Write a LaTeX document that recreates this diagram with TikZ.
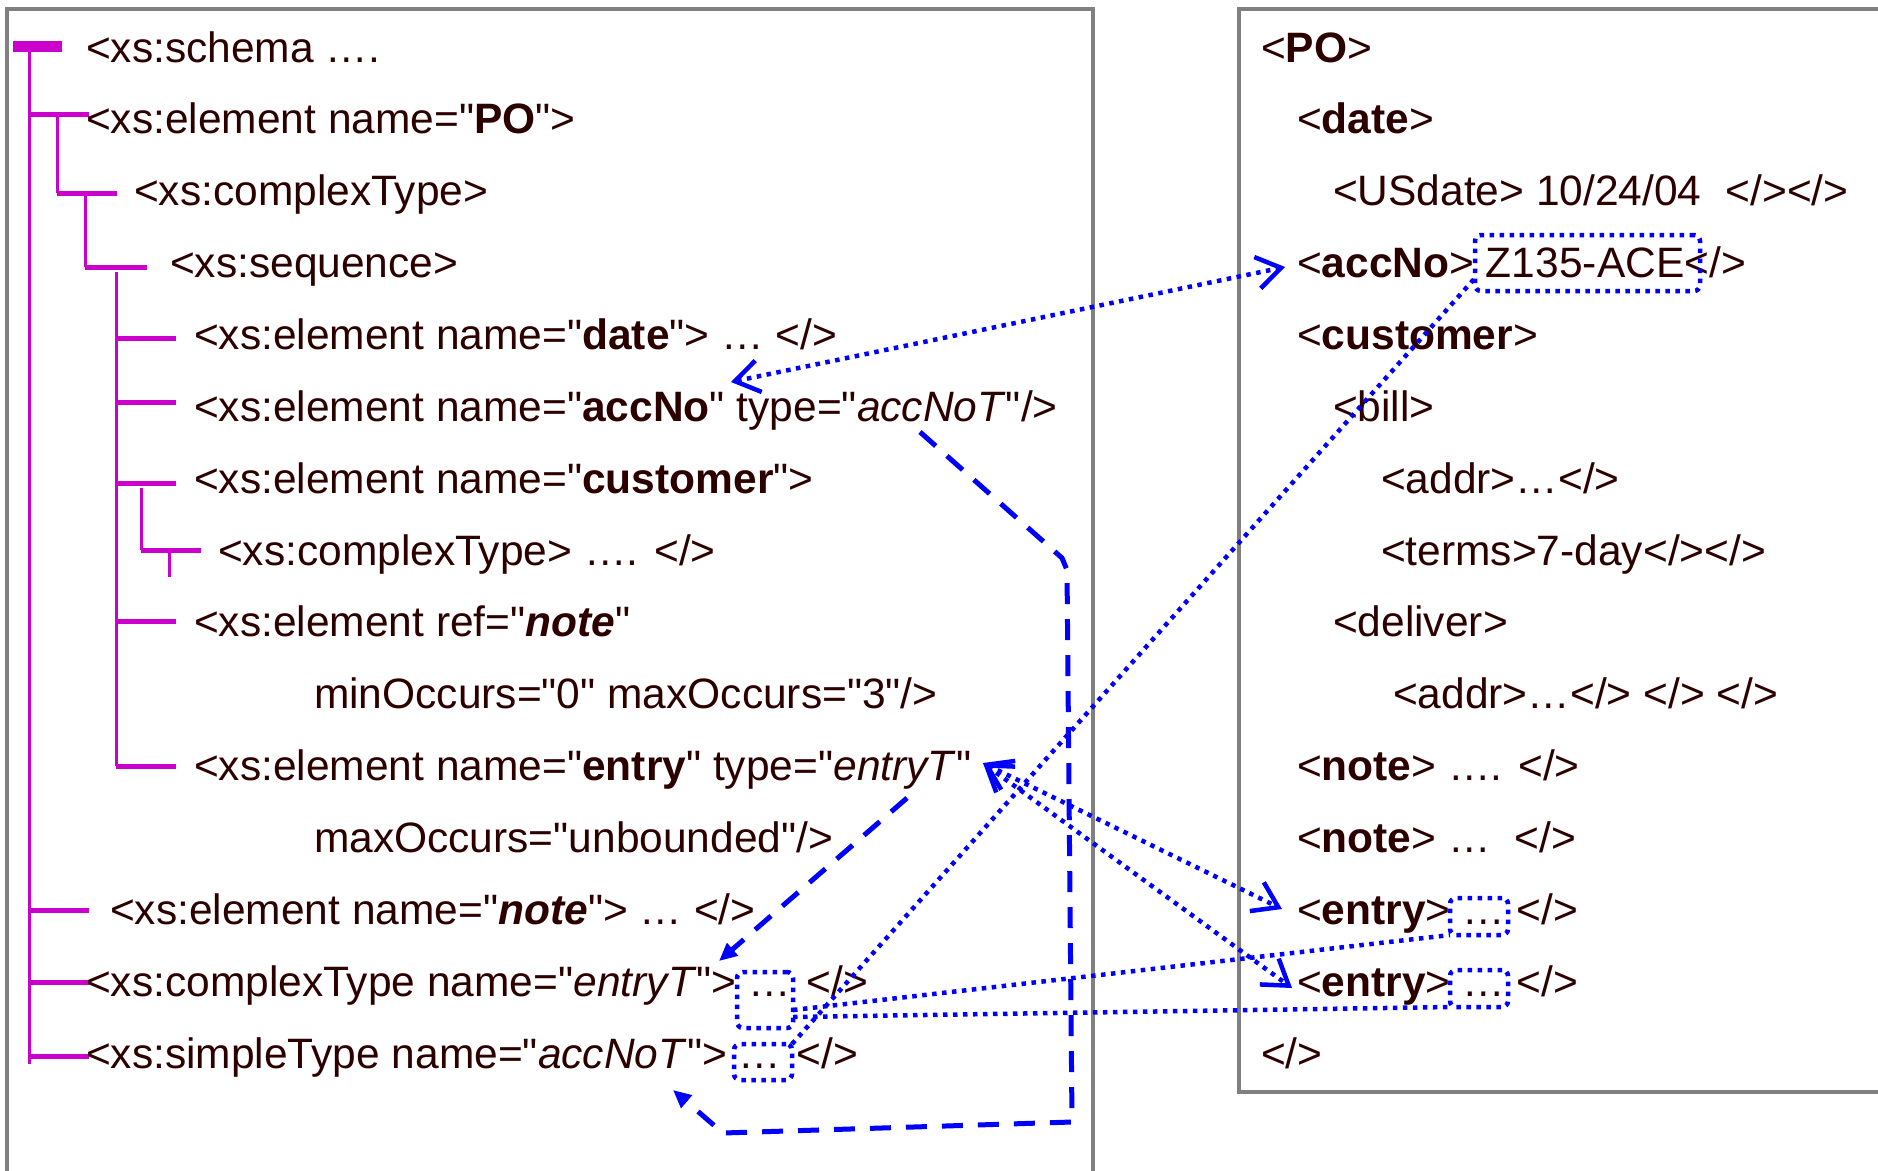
\documentclass[tikz,border=0pt]{standalone}
\usepackage{fontspec}
\setmainfont{Liberation Sans}[Ligatures=TeXOff]
\usetikzlibrary{arrows.meta}
\definecolor{ink}{RGB}{45,0,0}
\definecolor{treec}{RGB}{204,0,204}
\definecolor{framec}{RGB}{128,128,128}
\definecolor{linkc}{RGB}{0,0,255}
\tikzset{
  vhead/.tip={Straight Barb[length=24pt,width=32pt]},
  fhead/.tip={Triangle[length=18pt,width=16pt]},
  txt/.style={anchor=base west, inner sep=0pt, outer sep=0pt, text=ink,
    font=\fontsize{42.5}{50}\selectfont},
  branch/.style={treec, line width=5pt},
  stem/.style={treec, line width=3pt},
  panel/.style={framec, line width=4pt},
  dotln/.style={linkc, line width=4.5pt, dash pattern=on 4.5pt off 5.5pt},
  dashln/.style={linkc, line width=5pt, dash pattern=on 21pt off 15pt},
  dotbox/.style={draw=linkc, line width=4.5pt, dash pattern=on 4.5pt off 5.5pt,
    rounded corners=6pt, inner sep=0pt, outer sep=0pt, rectangle},
}
\begin{document}
\begin{tikzpicture}[x=1pt,y=-1pt]
\useasboundingbox (0,0) rectangle (1878,1170);
\clip (0,0) rectangle (1878,1170);
\fill[white] (0,0) rectangle (1878,1170);

% the two panels
\draw[panel] (7,9) rectangle (1093,1200);
\draw[panel] (1239,9) rectangle (1900,1092);

% schema tree
\draw[treec, line width=11pt] (13,46) -- (62,46);
\draw[stem] (29,46) -- (29,1064);
\draw[branch] (29,114) -- (89,114);
\draw[stem] (57,114) -- (57,193);
\draw[branch] (57,193) -- (117,193);
\draw[stem] (85,193) -- (85,267);
\draw[branch] (85,267) -- (147,267);
\draw[stem] (116,272) -- (116,766);
\draw[branch] (116,338) -- (176,338);
\draw[branch] (116,402) -- (176,402);
\draw[branch] (116,483) -- (176,483);
\draw[stem] (141,488) -- (141,550);
\draw[branch] (141,550) -- (201,550);
\draw[stem] (169,553) -- (169,577);
\draw[branch] (116,621) -- (176,621);
\draw[branch] (116,766) -- (176,766);
\draw[branch] (29,910) -- (89,910);
\draw[branch] (29,982) -- (89,982);
\draw[branch] (29,1056) -- (89,1056);

% schema text
\node[txt] (s0)  at (86,62)      {<xs:schema ….};
\node[txt] (s1)  at (86,133.9)   {<xs:element name="\textbf{PO}">};
\node[txt] (s2)  at (134,205.7)  {<xs:complexType>};
\node[txt] (s3)  at (170,277.6)  {<xs:sequence>};
\node[txt] (s4)  at (194,349.4)  {<xs:element name="\textbf{date}"> … </>};
\node[txt] (s5)  at (194,421.3)  {<xs:element name="\textbf{accNo}" type="\textit{accNoT}"/>};
\node[txt] (s6)  at (194,493.2)  {<xs:element name="\textbf{customer}">};
\node[txt] (s7)  at (218,565.0)  {<xs:complexType> …. </>};
\node[txt] (s8)  at (194,636.9)  {<xs:element ref="\textbf{\textit{note}}"};
\node[txt] (s9)  at (314,708.7)  {minOccurs="0" maxOccurs="3"/>};
\node[txt] (s10) at (194,780.6)  {<xs:element name="\textbf{entry}" type="\textit{entryT}"};
\node[txt] (s11) at (314,852.5)  {maxOccurs="unbounded"/>};
\node[txt] (s12) at (110,924.3)  {<xs:element name="\textbf{\textit{note}}"> … </>};
\node[txt] (s13) at (86,996.2)   {<xs:complexType name="\textit{entryT}"> … \hspace{4pt}</>};
\node[txt] (s14) at (86,1068.0)  {<xs:simpleType name="\textit{accNoT}">\hspace{12pt}…\hspace{15pt}</>};

% instance text
\node[txt] (d0)  at (1261,62)     {<\textbf{PO}>};
\node[txt] (d1)  at (1297,133.9)  {<\textbf{date}>};
\node[txt] (d2)  at (1333,205.7)  {<USdate> 10/24/04\hspace{24pt}</></>};
\node[txt] (d3)  at (1297,277.6)  {<\textbf{accNo}> Z135-ACE</>};
\node[txt] (d4)  at (1297,349.4)  {<\textbf{customer}>};
\node[txt] (d5)  at (1333,421.3)  {<bill>};
\node[txt] (d6)  at (1381,493.2)  {<addr>…</>};
\node[txt] (d7)  at (1381,565.0)  {<terms>7-day</></>};
\node[txt] (d8)  at (1333,636.9)  {<deliver>};
\node[txt] (d9)  at (1393,708.7)  {<addr>…</> </> </>};
\node[txt] (d10) at (1297,780.6)  {<\textbf{note}> …. </>};
\node[txt] (d11) at (1297,852.5)  {<\textbf{note}> …\hspace{24pt}</>};
\node[txt] (d12) at (1297,924.3)  {<\textbf{entry}> … </>};
\node[txt] (d13) at (1297,996.2)  {<\textbf{entry}> … </>};
\node[txt] (d14) at (1261,1068.0) {</>};

% dotted value boxes
\node[dotbox, minimum width=225pt, minimum height=56pt] (zbox) at (1587.5,263) {};
\node[dotbox, minimum width=58pt, minimum height=37pt] (ebox1) at (1479,916.5) {};
\node[dotbox, minimum width=58pt, minimum height=37pt] (ebox2) at (1479,988.5) {};
\node[dotbox, minimum width=56pt, minimum height=56pt] (tbox) at (765,1000) {};
\node[dotbox, minimum width=58pt, minimum height=36pt] (abox) at (763,1062) {};

% link end points
\coordinate (accL)   at (731,382);
\coordinate (accR)   at (1285,267);
\coordinate (entL)   at (983,763);
\coordinate (entR1)  at (1282,909);
\coordinate (entR2)  at (1292,988);
\coordinate (accTy)  at (920,432);
\coordinate (accB1)  at (1062,558);
\coordinate (accB2)  at (1067,570);
\coordinate (accB3)  at (1072,1122);
\coordinate (accB4)  at (723,1133);
\coordinate (accTip) at (673,1090);
\coordinate (entTy)  at (907,798);
\coordinate (entTip) at (719,961);

% element correspondences
\draw[dotln, vhead-vhead] (accL) -- (accR);
\draw[dotln, vhead-vhead] (entL) -- (entR1);
\draw[dotln, vhead-vhead] (entL) -- (entR2);

% content correspondences
\draw[dotln] ([yshift=-10pt]tbox.east) -- (ebox1.south west);
\draw[dotln] ([yshift=-17pt]tbox.east) -- (ebox2.south west);
\draw[dotln] (abox.north east) -- ([yshift=-15pt]zbox.west);

% type references
\draw[dashln, -fhead] (accTy) -- (accB1) -- (accB2) -- (accB3) -- (accB4) -- (accTip);
\draw[dashln, -fhead] (entTy) -- (entTip);
\end{tikzpicture}
\end{document}
